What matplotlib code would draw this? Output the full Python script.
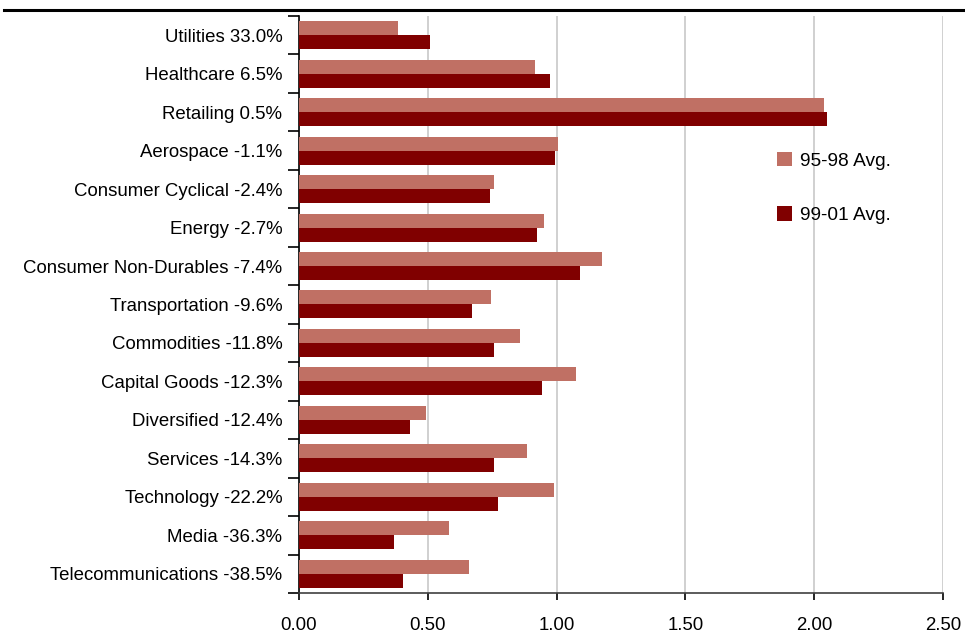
import matplotlib
matplotlib.use("Agg")
import matplotlib.pyplot as plt
from matplotlib.lines import Line2D
import numpy as np

# sectors, top to bottom
sectors = ["Utilities 33.0%", "Healthcare 6.5%", "Retailing 0.5%", "Aerospace -1.1%",
           "Consumer Cyclical -2.4%", "Energy -2.7%", "Consumer Non-Durables -7.4%",
           "Transportation -9.6%", "Commodities -11.8%", "Capital Goods -12.3%",
           "Diversified -12.4%", "Services -14.3%", "Technology -22.2%",
           "Media -36.3%", "Telecommunications -38.5%"]
avg_95_98 = [0.385, 0.917, 2.04, 1.005, 0.756, 0.95, 1.177, 0.746, 0.859, 1.076,
             0.494, 0.886, 0.991, 0.583, 0.661]
avg_99_01 = [0.51, 0.975, 2.05, 0.995, 0.74, 0.925, 1.092, 0.672, 0.758, 0.944,
             0.431, 0.758, 0.773, 0.369, 0.404]
xticks = [0.0, 0.5, 1.0, 1.5, 2.0, 2.5]

plt.rcParams['font.family'] = ['Liberation Sans Narrow', 'Liberation Sans', 'DejaVu Sans']
plt.rcParams['font.size'] = 13.4

fig = plt.figure(figsize=(9.65, 6.43), dpi=100)
ax = fig.add_axes([0.3098, 0.0778, 0.9772 - 0.3098, 0.9751 - 0.0778])

n = len(sectors)
y = np.arange(n)
h = 0.364
ax.barh(y - h / 2, avg_95_98, height=h, color="#C07064", label="95-98 Avg.", zorder=3)
ax.barh(y + h / 2, avg_99_01, height=h, color="#800000", label="99-01 Avg.", zorder=3)

ax.set_ylim(n - 0.5, -0.5)
ax.set_xlim(0, 2.5)
ax.set_yticks(y)
ax.set_yticklabels(sectors)
ax.set_yticks(np.arange(n + 1) - 0.5, minor=True)
ax.tick_params(axis="y", which="major", length=0, pad=12)
ax.tick_params(axis="y", which="minor", length=8, width=1.2, direction="out")
ax.set_xticks(xticks)
ax.set_xticklabels([f"{v:.2f}" for v in xticks])
ax.tick_params(axis="x", length=5, width=1.2, pad=12)

ax.grid(axis="x", color="#C8C8C8", linewidth=1.2, zorder=0)
for s in ["top", "right"]:
    ax.spines[s].set_visible(False)
ax.spines["left"].set_linewidth(1.2)
ax.spines["bottom"].set_linewidth(1.2)
ax.spines["bottom"].set_color("#404040")

ax.legend(loc="upper left", bbox_to_anchor=(0.715, 0.795), frameon=False,
          handlelength=0.8, handleheight=0.8, handletextpad=0.4, labelspacing=1.9,
          fontsize=13.8)

# black rule across the top
fig.add_artist(Line2D([0.004, 1.0], [1 - 10 / 643, 1 - 10 / 643], color="black", linewidth=2.2))

fig.savefig("out.png", dpi=100)
